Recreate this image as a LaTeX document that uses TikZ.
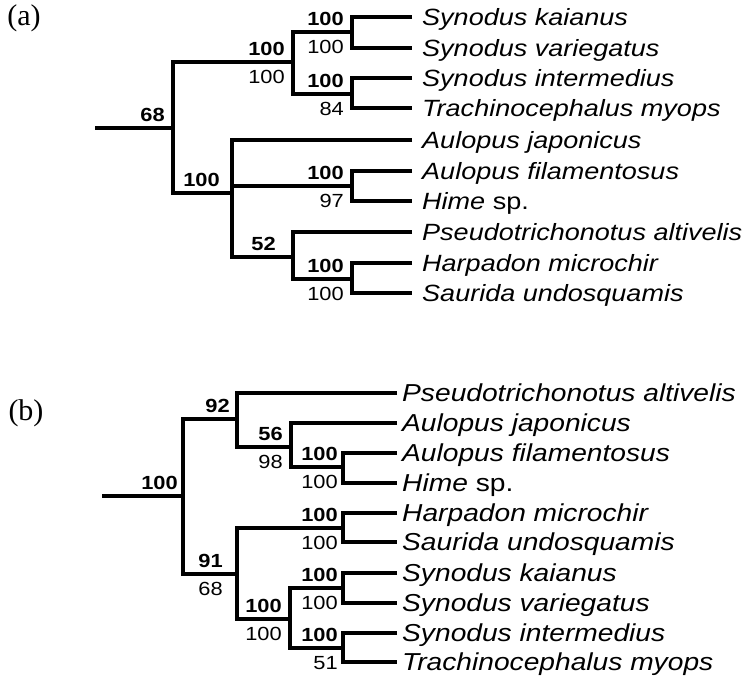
\documentclass[tikz,border=0pt]{standalone}
\usepackage{fontspec}
\setmainfont{Liberation Serif}
\newfontfamily\taxfont[FakeStretch=1.15]{Liberation Sans}
\tikzset{
  branch/.style={line width=3.3pt},
  taxon/.style={anchor=west, inner xsep=10pt, inner ysep=0pt,
    text height=16.8pt, text depth=0pt,
    font=\taxfont\itshape\fontsize{23.5}{24}\selectfont},
  taxonb/.style={taxon, inner xsep=5pt, text height=17.4pt,
    font=\taxfont\itshape\fontsize{24.5}{25}\selectfont},
  bootup/.style={anchor=east, xshift=-8pt, yshift=13pt, inner sep=0pt,
    font=\taxfont\bfseries\fontsize{19}{19}\selectfont},
  bootdown/.style={anchor=east, xshift=-8pt, yshift=-15pt, inner sep=0pt,
    font=\taxfont\fontsize{19}{19}\selectfont},
  panel/.style={inner sep=0pt, font=\fontsize{30}{30}\selectfont}
}
\begin{document}
\begin{tikzpicture}[x=1pt, y=-1pt]
\useasboundingbox (0,0) rectangle (755,684);

% (a) maximum likelihood tree
\node[panel] (pa) at (24,18) {(a)};
\coordinate (aR0) at (95,128);
\coordinate (aR)  at (173,128);
\coordinate (aS)  at (293,62);
\coordinate (aS1) at (352,32);
\coordinate (aS2) at (352,94);
\coordinate (aA)  at (232,193);
\coordinate (aA1) at (352,186);
\coordinate (aH)  at (293,257);
\coordinate (aH1) at (352,279);

\node[taxon] (aKai) at (412,17)  {Synodus kaianus};
\node[taxon] (aVar) at (412,48)  {Synodus variegatus};
\node[taxon] (aInt) at (412,78)  {Synodus intermedius};
\node[taxon] (aMyo) at (412,108) {Trachinocephalus myops};
\node[taxon] (aJap) at (412,140) {Aulopus japonicus};
\node[taxon] (aFil) at (412,171) {Aulopus filamentosus};
\node[taxon] (aHim) at (412,201) {Hime \textup{sp.}};
\node[taxon] (aPse) at (412,232) {Pseudotrichonotus altivelis};
\node[taxon] (aHar) at (412,263) {Harpadon microchir};
\node[taxon] (aSau) at (412,293) {Saurida undosquamis};

\draw[branch] (aR0) -- (aR);
\draw[branch] (aS) -| (aR) |- (aA);
\draw[branch] (aS1) -| (aS) |- (aS2);
\draw[branch] (aKai.west) -| (aS1) |- (aVar.west);
\draw[branch] (aInt.west) -| (aS2) |- (aMyo.west);
\draw[branch] (aJap.west) -| (aA) |- (aH);
\draw[branch] (aA1) -- (aA1 -| aA);
\draw[branch] (aFil.west) -| (aA1) |- (aHim.west);
\draw[branch] (aPse.west) -| (aH) |- (aH1);
\draw[branch] (aHar.west) -| (aH1) |- (aSau.west);

\node[bootup] at (aR) {68};
\node[bootup] at (aS) {100};
\node[bootdown] at (aS) {100};
\node[bootup] at (aS1) {100};
\node[bootdown] at (aS1) {100};
\node[bootup] at (aS2) {100};
\node[bootdown] at (aS2) {84};
\node[bootup, xshift=-4pt] at (aA) {100};
\node[bootup] at (aA1) {100};
\node[bootdown] at (aA1) {97};
\node[bootup, xshift=-9pt] at (aH) {52};
\node[bootup] at (aH1) {100};
\node[bootdown] at (aH1) {100};

% (b) Bayesian tree
\node[panel] (pb) at (26,413) {(b)};
\coordinate (bR0)  at (102,496);
\coordinate (bR)   at (183,496);
\coordinate (bU)   at (237,419);
\coordinate (bAu)  at (291,447);
\coordinate (bAu1) at (343,467);
\coordinate (bL)   at (237,574);
\coordinate (bHS)  at (343,528);
\coordinate (bSy)  at (290,619);
\coordinate (bSy1) at (343,588);
\coordinate (bSy2) at (343,648);

\node[taxonb] (bPse) at (397,393) {Pseudotrichonotus altivelis};
\node[taxonb] (bJap) at (397,423) {Aulopus japonicus};
\node[taxonb] (bFil) at (397,453) {Aulopus filamentosus};
\node[taxonb] (bHim) at (397,483) {Hime \textup{sp.}};
\node[taxonb] (bHar) at (397,513) {Harpadon microchir};
\node[taxonb] (bSau) at (397,542) {Saurida undosquamis};
\node[taxonb] (bKai) at (397,573) {Synodus kaianus};
\node[taxonb] (bVar) at (397,603) {Synodus variegatus};
\node[taxonb] (bInt) at (397,633) {Synodus intermedius};
\node[taxonb] (bMyo) at (397,662) {Trachinocephalus myops};

\draw[branch] (bR0) -- (bR);
\draw[branch] (bU) -| (bR) |- (bL);
\draw[branch] (bPse.west) -| (bU) |- (bAu);
\draw[branch] (bJap.west) -| (bAu) |- (bAu1);
\draw[branch] (bFil.west) -| (bAu1) |- (bHim.west);
\draw[branch] (bHS) -| (bL) |- (bSy);
\draw[branch] (bHar.west) -| (bHS) |- (bSau.west);
\draw[branch] (bSy1) -| (bSy) |- (bSy2);
\draw[branch] (bKai.west) -| (bSy1) |- (bVar.west);
\draw[branch] (bInt.west) -| (bSy2) |- (bMyo.west);

\node[bootup, xshift=3pt] at (bR) {100};
\node[bootup, xshift=1pt] at (bU) {92};
\node[bootup] at (bAu) {56};
\node[bootdown] at (bAu) {98};
\node[bootup, xshift=3pt] at (bAu1) {100};
\node[bootdown, xshift=3pt] at (bAu1) {100};
\node[bootup, xshift=-6pt] at (bL) {91};
\node[bootdown, xshift=-6pt] at (bL) {68};
\node[bootup, xshift=3pt] at (bHS) {100};
\node[bootdown, xshift=3pt] at (bHS) {100};
\node[bootup] at (bSy) {100};
\node[bootdown] at (bSy) {100};
\node[bootup, xshift=3pt] at (bSy1) {100};
\node[bootdown, xshift=3pt] at (bSy1) {100};
\node[bootup, xshift=3pt] at (bSy2) {100};
\node[bootdown, xshift=3pt] at (bSy2) {51};
\end{tikzpicture}
\end{document}
